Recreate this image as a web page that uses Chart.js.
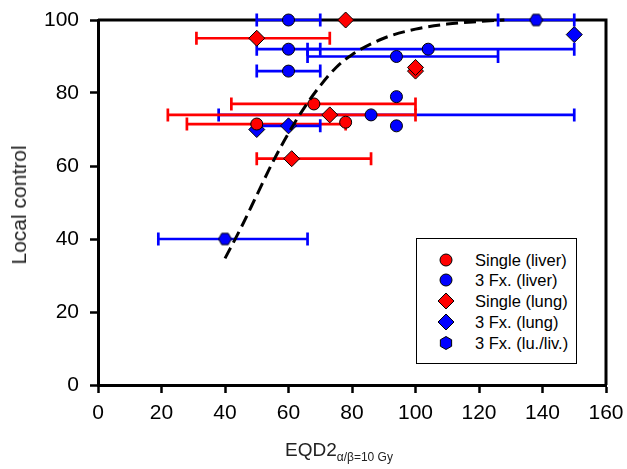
<!DOCTYPE html>
<html><head><meta charset="utf-8">
<script src="https://cdn.jsdelivr.net/npm/chart.js@4.4.1/dist/chart.umd.min.js"></script>
<style>
html,body{margin:0;padding:0;background:#fff;}
#wrap{position:relative;width:627px;height:469px;font-family:"Liberation Sans",Arial,sans-serif;color:#000;}
#c{position:absolute;left:0;top:0;}
#ytitle{position:absolute;left:19px;top:205px;transform:translate(-50%,-50%) rotate(-90deg);font-size:21px;white-space:nowrap;color:#222;}
#xtitle{position:absolute;left:285px;top:439px;font-size:19px;white-space:nowrap;color:#222;}
#xtitle sub{font-size:12px;vertical-align:-5px;}
#legend{position:absolute;left:416px;top:238px;width:161px;height:126px;border:1px solid #000;box-sizing:border-box;background:#fff;}
.row{position:absolute;left:0;height:20px;width:100%;}
.row svg{position:absolute;left:20px;top:1px;}
.row span{position:absolute;left:58px;top:0;font-size:16.5px;line-height:20px;white-space:nowrap;}
</style>
</head><body>
<div id="wrap">
<canvas id="c" width="627" height="469"></canvas>
<div id="ytitle">Local control</div>
<div id="xtitle">EQD2<sub>α/β=10 Gy</sub></div>
<div id="legend"></div>
</div>
<script>
// ---- data (EQD2 in Gy, local control in %) ----
const xTicks = [0,20,40,60,80,100,120,140,160];
const yTicks = [0,20,40,60,80,100];

const singleLiverX    = [50, 68, 78];
const singleLiverY    = [71.5, 77, 72];
const singleLiverXmin = [28, 42, null];
const singleLiverXmax = [78, 100, null];

const fx3LiverX    = [60, 60, 104, 94, 60, 94, 86, 94];
const fx3LiverY    = [100, 92, 92, 90, 86, 79, 74, 71];
const fx3LiverXmin = [50, 50, 66, 66, 50, null, 38, null];
const fx3LiverXmax = [70, 70, 150, 126, 70, null, 150, null];

const singleLungX    = [78, 50, 73, 61, 100, 100];
const singleLungY    = [100, 95, 74, 62, 86, 87];
const singleLungXmin = [null, 31, 22, 50, null, null];
const singleLungXmax = [null, 73, 100, 86, null, null];

const fx3LungX    = [150, 60, 50];
const fx3LungY    = [96, 71, 70];
const fx3LungXmin = [null, 50, null];
const fx3LungXmax = [null, 70, null];

const fx3LuLivX    = [40, 138];
const fx3LuLivY    = [40, 100];
const fx3LuLivXmin = [19, 126];
const fx3LuLivXmax = [66, 150];

const fitX = [40, 45, 50, 55, 60, 65, 70, 75, 80, 90, 100, 110, 120, 128];
const fitY = [34.7, 43, 52, 61, 69, 76, 82, 87, 90.5, 95, 97.5, 98.9, 99.6, 100];

const seriesNames = ['Single (liver)','3 Fx. (liver)','Single (lung)','3 Fx. (lung)','3 Fx. (lu./liv.)'];

// ---- helpers ----
const RED = '#ff0000', BLUE = '#0000ff';
function pts(xs, ys){ return xs.map((x,i)=>({x:x, y:ys[i]})); }
function errs(mn, mx){ return mn.map((v,i)=> v==null ? null : [v, mx[i]]); }

function hexImage(size, fill){
  const c = document.createElement('canvas');
  c.width = size; c.height = size;
  const g = c.getContext('2d');
  const r = size/2 - 1, cx = size/2, cy = size/2;
  g.beginPath();
  for(let k=0;k<6;k++){ const a = Math.PI/3*k; const px = cx + r*Math.cos(a), py = cy + r*Math.sin(a); k?g.lineTo(px,py):g.moveTo(px,py); }
  g.closePath(); g.fillStyle = fill; g.fill(); g.lineWidth = 1; g.strokeStyle = '#000'; g.stroke();
  return c;
}
const hexPt = hexImage(15, BLUE);

function markerDS(label, xs, ys, mn, mx, color, style, radius){
  return {
    label: label, type:'scatter', data: pts(xs, ys), xerr: errs(mn, mx), errColor: color,
    pointStyle: style, pointRadius: radius, pointHoverRadius: radius,
    backgroundColor: color, borderColor: '#000', borderWidth: 1, showLine:false, clip:false
  };
}

const datasets = [
  { label:'fit', type:'scatter', data: pts(fitX, fitY), showLine:true, borderColor:'#000', borderWidth:3,
    borderDash:[12,6], pointRadius:0, cubicInterpolationMode:'monotone', fill:false, clip:false },
  markerDS(seriesNames[0], singleLiverX, singleLiverY, singleLiverXmin, singleLiverXmax, RED, 'circle', 6),
  markerDS(seriesNames[3], fx3LungX, fx3LungY, fx3LungXmin, fx3LungXmax, BLUE, 'rectRot', 8),
  markerDS(seriesNames[1], fx3LiverX, fx3LiverY, fx3LiverXmin, fx3LiverXmax, BLUE, 'circle', 6),
  markerDS(seriesNames[2], singleLungX, singleLungY, singleLungXmin, singleLungXmax, RED, 'rectRot', 8),
  markerDS(seriesNames[4], fx3LuLivX, fx3LuLivY, fx3LuLivXmin, fx3LuLivXmax, BLUE, hexPt, 7)
];

const errorBars = {
  id:'errorBars',
  beforeDatasetsDraw(chart){
    const ctx = chart.ctx, xs = chart.scales.x, ys = chart.scales.y, a = chart.chartArea;
    // frame top / right
    ctx.save();
    ctx.strokeStyle = '#000'; ctx.lineWidth = 3;
    ctx.beginPath();
    ctx.moveTo(a.left, a.top); ctx.lineTo(a.right, a.top); ctx.lineTo(a.right, a.bottom);
    ctx.stroke();
    ctx.restore();
    chart.data.datasets.forEach(ds=>{
      if(!ds.xerr) return;
      ctx.save();
      ctx.strokeStyle = ds.errColor; ctx.lineWidth = 2.7; ctx.lineCap = 'butt';
      ds.data.forEach((p,j)=>{
        const e = ds.xerr[j]; if(!e) return;
        const yy = ys.getPixelForValue(p.y);
        const x0 = xs.getPixelForValue(e[0]), x1 = xs.getPixelForValue(e[1]);
        ctx.beginPath();
        ctx.moveTo(x0, yy); ctx.lineTo(x1, yy);
        ctx.moveTo(x0, yy-6.5); ctx.lineTo(x0, yy+6.5);
        ctx.moveTo(x1, yy-6.5); ctx.lineTo(x1, yy+6.5);
        ctx.stroke();
      });
      ctx.restore();
    });
  }
};

new Chart(document.getElementById('c'), {
  type:'scatter',
  data:{ datasets: datasets },
  options:{
    responsive:false, animation:false, devicePixelRatio:1,
    layout:{ padding:{ left:0, top:20, right:21, bottom:24 } },
    plugins:{ legend:{display:false}, tooltip:{enabled:false} },
    scales:{
      x:{ type:'linear', min:0, max:160,
        afterFit(s){ s.height = 60; s.paddingLeft = 0; s.paddingRight = 0; },
        afterBuildTicks(s){ s.ticks = xTicks.map(v=>({value:v})); },
        ticks:{ color:'#000', font:{family:'"Liberation Sans", Arial', size:21}, padding:8 },
        grid:{ drawOnChartArea:false, drawTicks:true, tickLength:8, tickWidth:2.5, tickColor:'#000', color:'#000' },
        border:{ display:true, color:'#000', width:3 } },
      y:{ type:'linear', min:0, max:100,
        afterFit(s){ s.width = 98; s.paddingTop = 0; s.paddingBottom = 0; },
        afterBuildTicks(s){ s.ticks = yTicks.map(v=>({value:v})); },
        ticks:{ color:'#000', font:{family:'"Liberation Sans", Arial', size:21}, padding:11 },
        grid:{ drawOnChartArea:false, drawTicks:true, tickLength:8, tickWidth:2.5, tickColor:'#000', color:'#000' },
        border:{ display:true, color:'#000', width:3 } }
    }
  },
  plugins:[errorBars]
});

// ---- legend (HTML) ----
const legendItems = [
  {name: seriesNames[0], shape:'circle', color:RED},
  {name: seriesNames[1], shape:'circle', color:BLUE},
  {name: seriesNames[2], shape:'diamond', color:RED},
  {name: seriesNames[3], shape:'diamond', color:BLUE},
  {name: seriesNames[4], shape:'hex', color:BLUE}
];
const rowTops = [11, 31, 52, 73, 94];
const lg = document.getElementById('legend');
legendItems.forEach((it,i)=>{
  const row = document.createElement('div'); row.className='row'; row.style.top = rowTops[i]+'px';
  let shape;
  if(it.shape==='circle') shape = '<circle cx="9" cy="9" r="6" fill="'+it.color+'" stroke="#000" stroke-width="1"/>';
  else if(it.shape==='diamond') shape = '<polygon points="9,1 17,9 9,17 1,9" fill="'+it.color+'" stroke="#000" stroke-width="1"/>';
  else { let p=[]; for(let k=0;k<6;k++){const a=Math.PI/3*k+Math.PI/6; p.push((9+6.5*Math.cos(a)).toFixed(2)+','+(9+6.5*Math.sin(a)).toFixed(2));} shape='<polygon points="'+p.join(' ')+'" fill="'+it.color+'" stroke="#000" stroke-width="1"/>'; }
  row.innerHTML = '<svg width="18" height="18">'+shape+'</svg><span>'+it.name+'</span>';
  lg.appendChild(row);
});
</script>
</body></html>
